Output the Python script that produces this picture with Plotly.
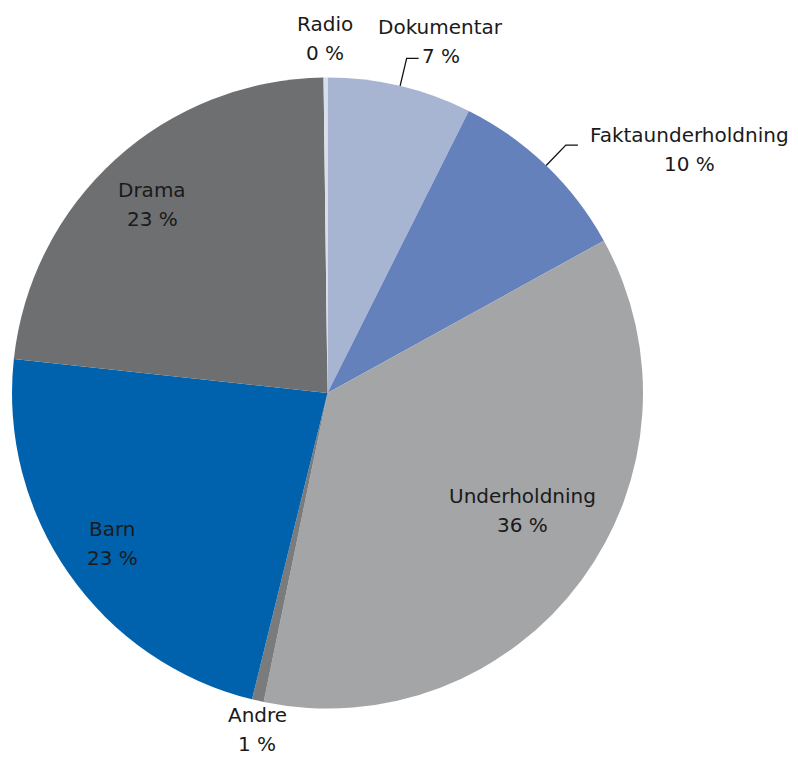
import math
import plotly.graph_objects as go

# ---- data ----
categories = ["Dokumentar", "Faktaunderholdning", "Underholdning", "Andre", "Barn", "Drama", "Radio"]
values = [7.4, 9.6, 36.3, 0.6, 22.9, 23.1, 0.2]

# ---- style ----
colors = ["#a7b4d2", "#6581bc", "#a4a5a7", "#7a7b7c", "#0062ad", "#6d6f71", "#d9dfea"]
# label placement (radius factor of pie radius, horizontal nudge in px, leader line?)
label_radius = [1.145, 1.072, 0.628, 1.095, 0.833, 0.806, 1.123]
label_nudge = [30, 128, 36, 6, 0, -4, 0]
label_leader = [True, True, False, False, False, False, False]
FONT = dict(family="DejaVu Sans", size=20, color="#1a1a1a")
LINE_GAP = 29

W, H = 798, 758
# pie box in page pixels (div coords)
px0, px1, py0, py1 = 4, 635, 69, 701
cx, cy = (px0 + px1) / 2, (py0 + py1) / 2
R = (px1 - px0) / 2

total = sum(values)
pct_labels = [f"{round(v / total * 100)} %" for v in values]


def to_paper(x, y):
    return x / W, 1 - y / H


def polar(theta_deg, r):
    t = math.radians(theta_deg)
    return cx + r * math.sin(t), cy - r * math.cos(t)


fig = go.Figure(go.Pie(
    labels=categories,
    values=values,
    textinfo="none",
    sort=False,
    direction="clockwise",
    rotation=0,
    marker=dict(colors=colors, line=dict(width=0)),
    showlegend=False,
    hoverinfo="label+percent",
    domain=dict(x=[px0 / W, px1 / W], y=[1 - py1 / H, 1 - py0 / H]),
))

annotations = []
shapes = []
cum = 0.0
for i, (cat, v) in enumerate(zip(categories, values)):
    mid = (cum + v / 2) / total * 360
    cum += v
    lx, ly = polar(mid, label_radius[i] * R)
    lx += label_nudge[i]
    for txt, dy in ((cat, -LINE_GAP / 2), (pct_labels[i], LINE_GAP / 2)):
        ax_, ay_ = to_paper(lx, ly + dy)
        annotations.append(dict(
            x=ax_, y=ay_, xref="paper", yref="paper",
            text=txt, showarrow=False,
            xanchor="center", yanchor="middle", align="center", font=FONT,
        ))
    if label_leader[i]:
        ex, ey = polar(mid, R)
        kx, ky = polar(mid, 1.09 * R)
        hx, hy = kx + 12, ky
        pts = [to_paper(ex, ey), to_paper(kx, ky), to_paper(hx, hy)]
        path = "M {} {} L {} {} L {} {}".format(*[c for p in pts for c in p])
        shapes.append(dict(type="path", xref="paper", yref="paper", path=path,
                           line=dict(color="#111111", width=1.3)))

fig.update_layout(
    width=W, height=H,
    margin=dict(l=0, r=0, t=0, b=0),
    paper_bgcolor="white",
    plot_bgcolor="white",
    annotations=annotations,
    shapes=shapes,
)
fig.write_html("out.html")
